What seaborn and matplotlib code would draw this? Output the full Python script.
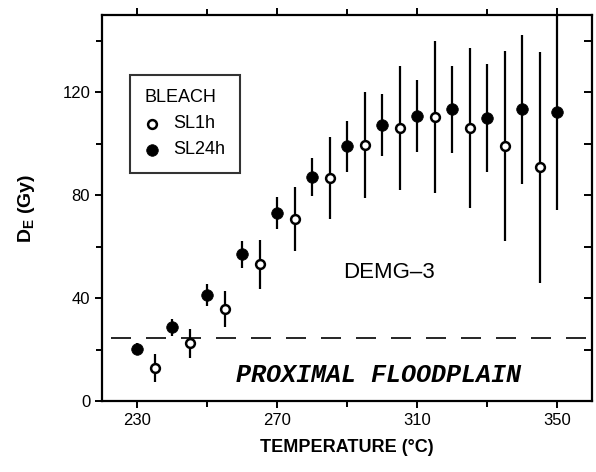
import matplotlib
matplotlib.use("Agg")
import matplotlib.pyplot as plt
import seaborn as sns
import pandas as pd

# ---- data ----
temp_sl1h = [235, 245, 255, 265, 275, 285, 295, 305, 315, 325, 335, 345]
de_sl1h = [12.8, 22.5, 35.7, 53.2, 70.7, 86.6, 99.4, 106.0, 110.4, 106.0, 99.0, 90.8]
err_sl1h = [5.3, 5.6, 7.0, 9.5, 12.5, 16.0, 20.5, 24.0, 29.5, 31.0, 37.0, 45.0]

temp_sl24h = [230, 240, 250, 260, 270, 280, 290, 300, 310, 320, 330, 340, 350]
de_sl24h = [20.2, 28.7, 41.2, 57.0, 73.0, 87.0, 99.0, 107.2, 110.8, 113.3, 109.8, 113.3, 112.3]
err_sl24h = [2.5, 3.3, 4.2, 5.2, 6.2, 7.5, 10.0, 12.0, 14.0, 17.0, 21.0, 29.0, 38.0]

plateau_level = 24.5
x_ticks = [230, 270, 310, 350]
y_ticks = [0, 40, 80, 120]

sns.set_style("ticks")
plt.rcParams['font.family'] = ['Liberation Sans', 'DejaVu Sans']
plt.rcParams['mathtext.default'] = 'regular'
for k in ['text.color', 'axes.labelcolor', 'xtick.color', 'ytick.color', 'axes.edgecolor']:
    plt.rcParams[k] = 'black'

fig = plt.figure(figsize=(5.96, 4.72), dpi=100)
ax = fig.add_axes([102/596, 1-401/472, 490/596, 386/472])

df1 = pd.DataFrame({"T": temp_sl1h, "DE": de_sl1h, "err": err_sl1h})
df24 = pd.DataFrame({"T": temp_sl24h, "DE": de_sl24h, "err": err_sl24h})

# error bars
ax.vlines(df1["T"], df1["DE"] - df1["err"], df1["DE"] + df1["err"], color="black", lw=1.6, zorder=2)
ax.vlines(df24["T"], df24["DE"] - df24["err"], df24["DE"] + df24["err"], color="black", lw=1.6,
          zorder=2, clip_on=False)

sns.scatterplot(data=df1, x="T", y="DE", ax=ax, marker="o", s=40, facecolor="white",
                edgecolor="black", linewidth=1.8, zorder=3, label="SL1h")
sns.scatterplot(data=df24, x="T", y="DE", ax=ax, marker="o", s=70, color="black",
                edgecolor="black", linewidth=0.5, zorder=3, label="SL24h")

ax.hlines(plateau_level, 222.5, 360, colors="black", lw=1.2, linestyles=(0, (12, 9)), zorder=1)

ax.set_xlim(220, 360)
ax.set_ylim(0, 150)
ax.set_xticks(x_ticks)
ax.set_xticks(range(230, 360, 20), minor=True)
ax.set_yticks(y_ticks)
ax.set_yticks(range(20, 150, 40), minor=True)

ax.tick_params(axis="both", which="major", direction="out", length=5, width=1.4, labelsize=12,
               top=True, bottom=True, colors="black")
ax.tick_params(axis="both", which="minor", direction="out", length=4, width=1.4, top=True, bottom=True)
for s in ax.spines.values():
    s.set_linewidth(1.6)
    s.set_visible(True)
    s.set_color("black")

# right axis with inward ticks
axr = ax.twinx()
axr.set_ylim(0, 150)
axr.set_yticks(range(20, 150, 20))
axr.tick_params(axis="y", direction="in", length=6, width=1.4, labelright=False)
for s in axr.spines.values():
    s.set_visible(False)

ax.set_xlabel("TEMPERATURE (°C)", fontsize=13, fontweight="bold", labelpad=8)
ax.set_ylabel("D$_E$ (Gy)", fontsize=14, fontweight="bold", labelpad=18)

ax.text(302, 50, "DEMG–3", fontsize=16, ha="center", va="center")
ax.text(299, 10, "PROXIMAL FLOODPLAIN", fontsize=18, ha="center", va="center",
        family="Liberation Mono", style="italic", fontweight="bold")

leg = ax.legend(loc="upper left", bbox_to_anchor=(0.039, 0.868), title="BLEACH",
                fontsize=13, title_fontsize=13, frameon=True, fancybox=False,
                edgecolor="black", handletextpad=0.8, borderpad=0.8, labelspacing=0.5,
                handlelength=0.8)
leg.get_frame().set_linewidth(1.5)
leg._legend_box.align = "left"

fig.savefig("out.png", dpi=100)
